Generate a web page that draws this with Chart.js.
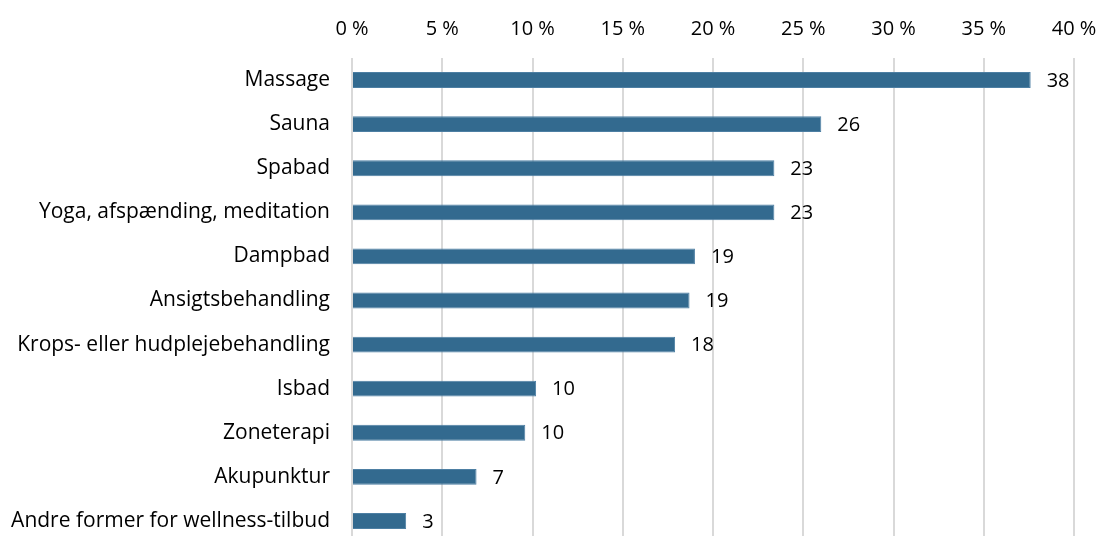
<!DOCTYPE html>
<html>
<head>
<meta charset="utf-8">
<script src="https://cdn.jsdelivr.net/npm/chart.js@4"></script>
<style>
  html, body { margin: 0; padding: 0; background: #fff; overflow: hidden; }
</style>
</head>
<body>
<canvas id="chart" width="1100" height="543"></canvas>
<script>
// Categories and shares (%)
const categories = [
  'Massage',
  'Sauna',
  'Spabad',
  'Yoga, afspænding, meditation',
  'Dampbad',
  'Ansigtsbehandling',
  'Krops- eller hudplejebehandling',
  'Isbad',
  'Zoneterapi',
  'Akupunktur',
  'Andre former for wellness-tilbud'
];
const shares = [37.6, 26.0, 23.4, 23.4, 19.0, 18.7, 17.9, 10.2, 9.6, 6.9, 3.0];

const FONT = { family: 'Open Sans', size: 20 };
const CAT_FONT = { family: 'Open Sans', size: 21 };

// Draw the rounded value to the right of each bar
const valueLabels = {
  id: 'valueLabels',
  afterDatasetsDraw(chart) {
    const ctx = chart.ctx;
    const meta = chart.getDatasetMeta(0);
    ctx.save();
    ctx.font = FONT.size + 'px "' + FONT.family + '"';
    ctx.fillStyle = '#000';
    ctx.textAlign = 'left';
    ctx.textBaseline = 'middle';
    meta.data.forEach((bar, i) => {
      ctx.fillText(Math.round(shares[i]), bar.x + 16, bar.y + 1);
    });
    ctx.restore();
  }
};

new Chart(document.getElementById('chart'), {
  type: 'bar',
  data: {
    labels: categories,
    datasets: [{
      data: shares,
      backgroundColor: '#336a8f',
      borderColor: '#4d7fa3',
      borderWidth: 1,
      barPercentage: 0.36,
      categoryPercentage: 1
    }]
  },
  options: {
    indexAxis: 'y',
    responsive: false,
    animation: false,
    layout: { padding: { right: 26, left: 0, top: 0, bottom: 0 } },
    plugins: {
      legend: { display: false },
      tooltip: { enabled: false }
    },
    scales: {
      x: {
        position: 'top',
        min: 0,
        max: 40,
        ticks: {
          stepSize: 5,
          color: '#000',
          font: FONT,
          padding: 17,
          maxRotation: 0,
          callback: v => v + ' %'
        },
        grid: { color: '#d9d9d9', lineWidth: 2, drawTicks: false },
        border: { display: false },
        afterFit: s => {
          s.height = 58;
          s.paddingLeft = 0; s.paddingRight = 0;
        }
      },
      y: {
        ticks: { color: '#000', font: CAT_FONT, padding: 22 },
        grid: { display: false, drawTicks: false },
        border: { display: false },
        afterFit: s => {
          s.width = 352;
          s.paddingTop = 0; s.paddingBottom = 0;
        }
      }
    }
  },
  plugins: [valueLabels]
});
</script>
</body>
</html>
